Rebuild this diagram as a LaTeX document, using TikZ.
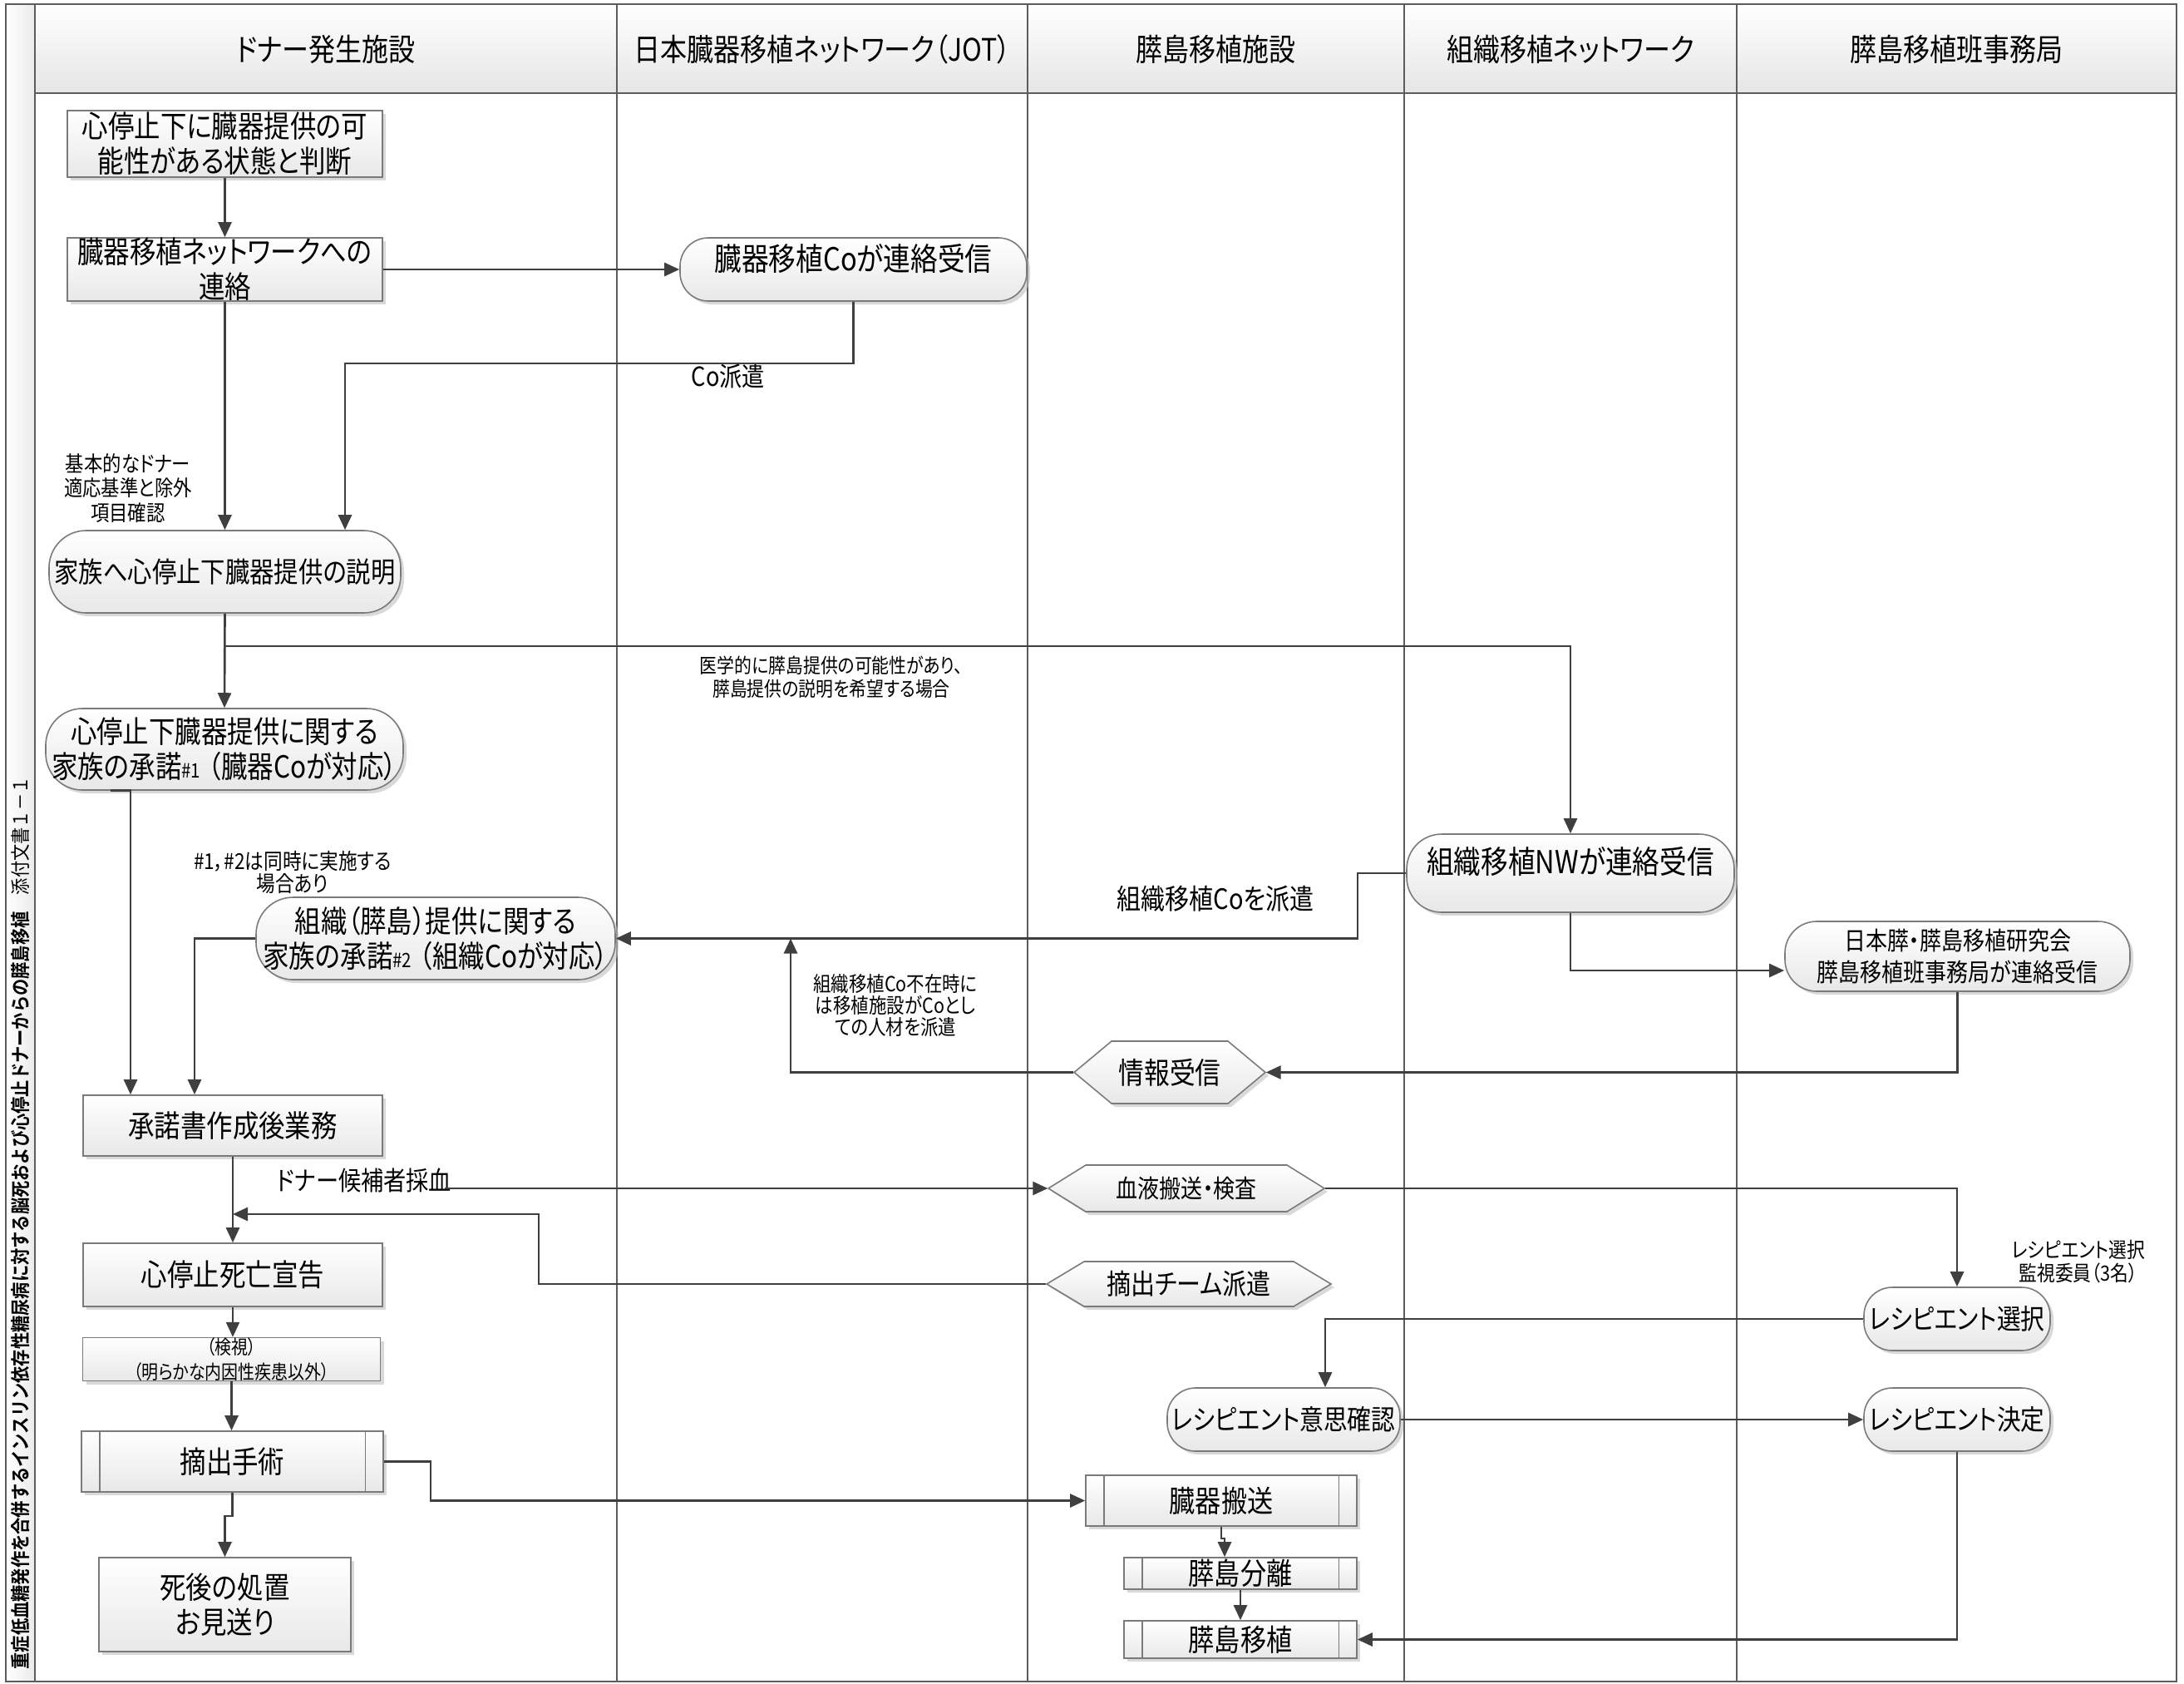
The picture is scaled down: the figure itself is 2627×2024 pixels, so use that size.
\documentclass[tikz,border=0pt]{standalone}
\usepackage{fontspec}
\setmainfont{Noto Sans CJK JP}[FakeStretch=0.86,RawFeature=+palt,BoldFont={* Bold}]
\newfontfamily\titlefont{Noto Sans CJK JP}[FakeStretch=0.86,BoldFont={* Bold}]
\usetikzlibrary{arrows.meta,shapes.misc,shadows}
\definecolor{linec}{HTML}{3F3F3F}
\definecolor{borderc}{HTML}{7A7A7A}
\definecolor{lanec}{HTML}{5C5C5C}
\newcommand\fsz[2]{\fontsize{#1}{#2}\selectfont}
\newcommand\ppbars[1]{\draw[bar] ([xshift=2.25mm]#1.north west) -- ([xshift=2.25mm]#1.south west) ([xshift=-2.25mm]#1.north east) -- ([xshift=-2.25mm]#1.south east);}
\begin{document}
\begin{tikzpicture}[x=0.1mm,y=-0.1mm,
 conn/.style={draw=linec,line width=0.75pt,-{Triangle[length=1.8mm,width=1.6mm]}},
 shade/.style={draw=borderc,line width=0.45pt,top color=white,bottom color=black!9,
   drop shadow={shadow xshift=0.4mm,shadow yshift=-0.4mm,fill=black!25,opacity=0.6}},
 box/.style={shade,inner sep=0pt,align=center,font=\fsz{10.4}{12}},
 rbox/.style={box,rectangle},
 sbox/.style={box,rectangle,rounded corners=#1},
 bar/.style={draw=borderc,line width=0.45pt},
 lbl/.style={inner sep=0pt,align=center},
 head/.style={inner sep=0pt,font=\fsz{10.6}{12}},
 lane/.style={draw=lanec,line width=0.6pt},
]
\useasboundingbox (0,0) rectangle (2627,2024);
% pool
\path[top color=white,bottom color=black!10] (42,5) rectangle (2618,112);
\path[left color=white,right color=black!8] (7,5) rectangle (42,2022);
\draw[lane] (7,5) rectangle (2618,2022);
\foreach \x in {42,742,1236,1689,2089} \draw[lane] (\x,5) -- (\x,2022);
\draw[lane] (42,112) -- (2618,112);
% headers
\node[head] (h1) at (392,59) {ドナー発生施設};
\node[head] (h2) at (989,59) {日本臓器移植ネットワーク（JOT）};
\node[head] (h3) at (1462.5,59) {膵島移植施設};
\node[head] (h4) at (1889,59) {組織移植ネットワーク};
\node[head] (h5) at (2353.5,59) {膵島移植班事務局};
% title strip
\node[rotate=90,anchor=west,inner sep=0pt,font=\titlefont\fsz{6.7}{8}] (title) at (24.5,2008)
 {\bfseries 重症低血糖発作を合併するインスリン依存性糖尿病に対する脳死および心停止ドナーからの膵島移植\mdseries　添付文書１－１};

% donor lane nodes
\node[rbox,minimum width=37.9mm,minimum height=8mm] (n1) at (270.5,173) {心停止下に臓器提供の可\\能性がある状態と判断};
\node[rbox,minimum width=37.9mm,minimum height=7.6mm] (n2) at (270.5,324) {臓器移植ネットワークへの\\連絡};
\node[sbox=4.45mm,minimum width=42.3mm,minimum height=9.9mm,font=\fsz{9.7}{12}] (n5) at (270.5,687.5) {家族へ心停止下臓器提供の説明};
\node[sbox=4.4mm,minimum width=43mm,minimum height=9.8mm] (n7) at (270,901) {心停止下臓器提供に関する\\家族の承諾{\fsz{6.8}{8}\#1}\kern0.25em（臓器Coが対応）};
\node[sbox=4.45mm,minimum width=43.2mm,minimum height=9.9mm] (n10) at (524,1128.5) {組織（膵島）提供に関する\\家族の承諾{\fsz{6.8}{8}\#2}\kern0.25em（組織Coが対応）};
\node[rbox,minimum width=36mm,minimum height=7.3mm] (n12) at (280,1353.5) {承諾書作成後業務};
\node[rbox,minimum width=36mm,minimum height=7.6mm] (n14) at (280,1533) {心停止死亡宣告};
\node[rbox,minimum width=35.8mm,minimum height=5.1mm,font=\fsz{6.6}{8.5}] (n21) at (278.5,1634.5) {（検視）\\（明らかな内因性疾患以外）};
\node[rbox,minimum width=36.3mm,minimum height=7.3mm] (n20) at (279.5,1757.5) {摘出手術};
\ppbars{n20}
\node[rbox,minimum width=30.3mm,minimum height=11.3mm] (n23) at (270.5,1929.5) {死後の処置\\お見送り};

% JOT
\node[sbox=3.4mm,minimum width=41.7mm,minimum height=7.6mm,font=\fsz{10.8}{12},text depth=2.85mm] (n3) at (1026.5,324) {臓器移植Coが連絡受信};

% islet facility
\path[shade] (1292,1289.5) -- (1337,1252) -- (1477,1252) -- (1522,1289.5) -- (1477,1327) -- (1337,1327) -- cycle;
\node[lbl,minimum width=23mm,minimum height=7.5mm,font=\fsz{10.2}{12}] (hi) at (1407,1289.5) {情報受信};
\path[shade] (1261,1429) -- (1306,1401) -- (1548,1401) -- (1593,1429) -- (1548,1457) -- (1306,1457) -- cycle;
\node[lbl,minimum width=33.2mm,minimum height=5.6mm,font=\fsz{8.6}{10}] (hb) at (1427,1429) {血液搬送・検査};
\path[shade] (1259,1544) -- (1304,1517) -- (1556,1517) -- (1601,1544) -- (1556,1571) -- (1304,1571) -- cycle;
\node[lbl,minimum width=34.2mm,minimum height=5.4mm,font=\fsz{9.6}{11}] (ht) at (1430,1544) {摘出チーム派遣};
\node[sbox=3.4mm,minimum width=28mm,minimum height=7.6mm,font=\fsz{9.5}{12}] (n18) at (1544,1707) {レシピエント意思確認};
\node[rbox,minimum width=32.6mm,minimum height=6.1mm,font=\fsz{10.3}{12}] (n24) at (1469,1804.5) {臓器搬送};
\ppbars{n24}
\node[rbox,minimum width=28mm,minimum height=3.8mm,font=\fsz{10.3}{12}] (n25) at (1492,1892) {膵島分離};
\ppbars{n25}
\node[rbox,minimum width=28mm,minimum height=4.5mm,font=\fsz{10.3}{12}] (n26) at (1492,1971.5) {膵島移植};
\ppbars{n26}

% tissue network
\node[sbox=4.2mm,minimum width=39.4mm,minimum height=9.4mm,font=\fsz{10.8}{12},text depth=3.05mm] (n8) at (1889,1050) {組織移植NWが連絡受信};

% islet office
\node[sbox=3.8mm,minimum width=41.5mm,minimum height=8.4mm,font=\fsz{8.6}{10.8}] (n16) at (2354.5,1150) {日本膵・膵島移植研究会\\膵島移植班事務局が連絡受信};
\node[sbox=3.4mm,minimum width=22.4mm,minimum height=7.6mm,font=\fsz{9.5}{12}] (n17) at (2354,1586) {レシピエント選択};
\node[sbox=3.4mm,minimum width=22.4mm,minimum height=7.6mm,font=\fsz{9.5}{12}] (n19) at (2354,1707) {レシピエント決定};

% labels
\node[lbl,font=\fsz{9}{11}] (l1) at (876,453) {Co派遣};
\node[lbl,font=\fsz{7.4}{8.3}] (l2) at (154,587) {基本的なドナー\\適応基準と除外\\項目確認};
\node[lbl,font=\fsz{6.9}{8}] (l3) at (1000,814) {医学的に膵島提供の可能性があり、\\膵島提供の説明を希望する場合};
\node[lbl,font=\fsz{7.5}{7.7}] (l4) at (352,1049) {\#1，\#2は同時に実施する\\場合あり};
\node[lbl,font=\fsz{9.6}{11}] (l5) at (1462,1081) {組織移植Coを派遣};
\node[lbl,font=\fsz{7.1}{7.5}] (l6) at (1077,1209) {組織移植Co不在時に\\は移植施設がCoとし\\ての人材を派遣};
\node[lbl,font=\fsz{9}{11}] (l7) at (438,1419) {ドナー候補者採血};
\node[lbl,font=\fsz{7.2}{8}] (l8) at (2500,1517) {レシピエント選択\\監視委員（3名）};

% connectors
\draw[conn] (n1.south) -- (n2.north);
\draw[conn] (n2.east) -- (n3.west);
\coordinate (k3) at (415,437);
\draw[conn] (n3.south) |- (k3) -- (k3 |- n5.north);
\draw[conn] (n2.south) -- (n5.north);
\draw[conn] (n5.south) -- (n7.north);
\coordinate (k5) at (270.5,777);
\draw[conn] (k5) -| (n8.north);
\coordinate (k8) at (1633,0);
\draw[conn] (n8.west) -- (k8 |- n8.west) -- (k8 |- n10.east) -- (n10.east);
\coordinate (k7) at (157,0);
\draw[conn] ([xshift=-13.7mm]n7.south) -- (k7 |- n7.south) -- (k7 |- n12.north);
\coordinate (k10) at (234,0);
\draw[conn] (n10.west) -- (k10 |- n10.west) -- (k10 |- n12.north);
\draw[conn] (n12.south) -- (n14.north);
\coordinate (k11) at (535,1429);
\draw[conn] (k11) -- (hb.west);
\draw[conn] (hb.east) -| (n17.north);
\coordinate (k12) at (648,1460);
\draw[conn] (ht.west) -| (k12) -- (n12.south |- k12);
\coordinate (k13) at (1594,0);
\draw[conn] (n17.west) -- (k13 |- n17.west) -- (k13 |- n18.north);
\draw[conn] (n18.east) -- (n19.west);
\draw[conn] (n19.south) |- (n26.east);
\draw[conn] (n8.south) |- ([yshift=-1.7mm]n16.west);
\draw[conn] (n16.south) |- (hi.east);
\coordinate (k18) at (951,0);
\draw[conn] (hi.west) -- (k18 |- hi.west) -- (k18 |- n10.east);
\draw[conn] (n14.south) -- (n14.south |- n21.north);
\draw[conn] (n21.south) -- (n21.south |- n20.north);
\draw[conn] (n20.south) -- ++(0,28) -| (n23.north);
\coordinate (k22) at (518,0);
\draw[conn] (n20.east) -- (k22 |- n20.east) -- (k22 |- n24.west) -- (n24.west);
\coordinate (k24) at (1473,0);
\draw[conn] (n24.south) -- ++(0,14) -| (k24 |- n25.north);
\draw[conn] (n25.south) -- (n26.north);
\end{tikzpicture}
\end{document}
